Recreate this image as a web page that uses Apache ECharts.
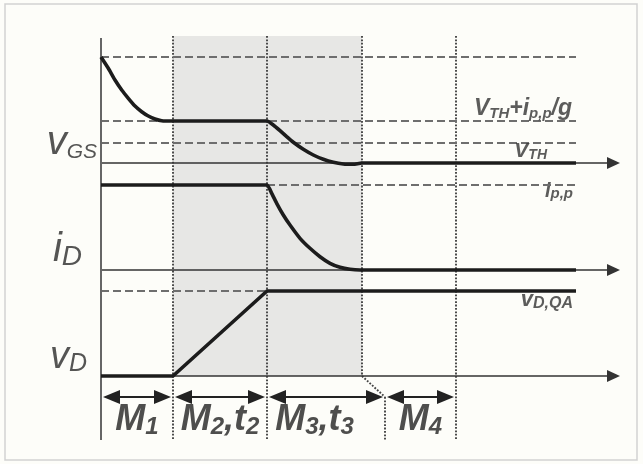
<!DOCTYPE html>
<html><head><meta charset="utf-8">
<script src="https://cdn.jsdelivr.net/npm/echarts@6/dist/echarts.min.js"></script>
<style>html,body{margin:0;padding:0;background:#fdfdf9}#c{width:643px;height:464px}</style>
</head><body><div id="c"></div>
<script>
// ---- data (x: time units, y: signal units) ----
const phaseBounds = [0, 7.2, 16.6, 26.1, 28.4, 35.5];   // t0, t1, t2, t3, t3', t4
const traceEnd = 47.5;
const axisEnd = 51.9;
const vgsStart = 31.9, vgsPlateau = 25.5, vthLevel = 23.3, vgsBase = 21.3;
const ippLevel = 19.1, idBase = 10.6;
const vdQA = 8.5, vdBase = 0;
const arrowRow = -2.1;
const yMin = -6.4, yMax = 34;

const vgsCurve = [[0,31.9],[0.73,30.77],[1.4,29.6],[2.07,28.6],[2.73,27.77],[3.4,27.0],[4.07,26.43],
  [4.73,26.0],[5.4,25.7],[6.07,25.53],[7.1,25.5],[16.6,25.5],
  [17.23,25.1],[17.9,24.53],[18.57,23.93],[19.23,23.37],[20.23,22.67],[21.23,22.1],[22.23,21.67],
  [23.23,21.37],[24.23,21.2],[25.23,21.17],[26.07,21.3],[47.5,21.3]];
const idCurve = [[0,19.1],[16.6,19.1],[17.07,18.27],[17.57,17.27],[18.23,16.1],[18.9,15.1],[19.9,13.77],
  [20.9,12.77],[21.9,11.93],[22.9,11.27],[23.9,10.87],[24.9,10.67],[25.9,10.6],[47.5,10.6]];
const vdCurve = [[0,0],[7.2,0],[16.6,8.5],[47.5,8.5]];

const phaseNames = ['M1', 'M2,t2', 'M3,t3', 'M4'];
const phaseSpans = [[0,1],[1,2],[2,3],[4,5]];      // indices into phaseBounds (label placement)
const phaseArrowEnds = [[0,1],[1,2],[2,4],[4,5]];  // indices into phaseBounds (arrow ends)

// ---- styles ----
const PX = 10; // pixels per unit (grid 520px / 52 units)
const FONT = 'Liberation Sans, Arial, sans-serif';
const traceStyle = {color:'#1c1c1c', width:3.6};
const dashStyle = {color:'#6e6e6e', width:2.2, type:[8,4]};
const dotStyle = {color:'#444', width:1.9, type:[1.8,1.6]};
const ink = '#2a2a2a';

function ml(pairs, lineStyle, symbol, symbolSize) {
  return {silent:true, animation:false, symbol:symbol||'none', symbolSize:symbolSize||0,
    label:{show:false}, lineStyle:lineStyle,
    data:pairs.map(p=>[{coord:[p[0],p[1]]},{coord:[p[2],p[3]]}])};
}
const t = phaseBounds;

// dotted time markers
const dotted = [
  [t[1], yMax, t[1], yMin], [t[2], yMax, t[2], yMin], [t[3], yMax, t[3], vdBase],
  [t[3], vdBase, t[4], arrowRow], [t[4], arrowRow, t[4], yMin], [t[5], yMax, t[5], yMin]
];
// dashed reference levels
const dashed = [
  [0, vgsStart, traceEnd, vgsStart], [0, vgsPlateau, traceEnd, vgsPlateau],
  [0, vthLevel, traceEnd, vthLevel], [t[2], ippLevel, traceEnd, ippLevel], [0, vdQA, t[2], vdQA]
];
// signal baselines with arrows
const arrowLen = 13;
const baselines = [vgsBase, idBase, vdBase].map(y => [0, y, axisEnd - arrowLen/2/PX, y]);
// phase double arrows
const headLen = 17, gap = 0.2;
const phaseArrows = phaseArrowEnds.map(([a,b]) => [t[a]+gap+headLen/2/PX, arrowRow, t[b]-gap-headLen/2/PX, arrowRow]);

// ---- text annotations ----
function richSub(mainSize, subSize, L, l, bold, color) {
  const base = {fontFamily:FONT, fontStyle:'italic', fontWeight: bold?'bold':'normal', color:color||ink};
  return {
    m: Object.assign({}, base, {fontSize:mainSize, lineHeight:L}),
    s: Object.assign({}, base, {fontSize:subSize, lineHeight:l, verticalAlign:'bottom'})
  };
}
const textItems = [
  // signal names left of the axis
  {value:[0, vgsBase], label:{formatter:'{m|v}{s|GS}', position:'left', distance:4, offset:[0,-20], rich:richSub(40,21,40,18,false)}},
  {value:[0, idBase], label:{formatter:'{m|i}{s|D}', position:'left', distance:19, offset:[0,-20], rich:richSub(40,28,42,20,false)}},
  {value:[0, vdBase], label:{formatter:'{m|v}{s|D}', position:'left', distance:14, offset:[0,-18.5], rich:richSub(38,25,38,22,false)}},
  // level names
  {value:[traceEnd, vgsPlateau], label:{formatter:'{m|V}{s|TH}{m|+i}{s|p,p}{m|/g}', position:'left', distance:4, offset:[0,-12.5], rich:richSub(23,15,26,15,true,'#333')}},
  {value:[traceEnd, vthLevel], label:{formatter:'{m|V}{s|TH}', position:'left', distance:29, offset:[0,8.5], rich:richSub(21,14,22,14,true,'#333')}},
  {value:[traceEnd, ippLevel], label:{formatter:'{m|i}{s|p,p}', position:'left', distance:3, offset:[0,6], rich:richSub(20,15,20,14,true,'#333')}},
  {value:[traceEnd, vdQA], label:{formatter:'{m|v}{s|D,QA}', position:'left', distance:3, offset:[0,9], rich:richSub(22,16,24,14,true,'#333')}}
];
phaseSpans.forEach(([a,b], i) => {
  const parts = phaseNames[i].split(',').map(p => '{m|' + p[0] + '}{s|' + p.slice(1) + '}');
  textItems.push({value:[(t[a]+t[b])/2, arrowRow],
    label:{formatter: parts.join('{m|,}'), position:'inside', offset:[0,23], rich:richSub(36,24,38,26,true,'#222')}});
});

const chart = echarts.init(document.getElementById('c'), null, {renderer:'canvas'});
chart.setOption({
  backgroundColor:'#fdfdf9',
  animation:false,
  grid:{left:101, right:22, top:36, bottom:24},
  xAxis:{type:'value', min:0, max:52, show:false},
  yAxis:{type:'value', min:yMin, max:yMax, show:false},
  graphic:[{type:'rect', shape:{x:5, y:4, width:632, height:456}, style:{fill:'none', stroke:'#d2d2d2', lineWidth:1.5}, z:-1}],
  series:[
    {type:'line', data:[], z:1,
      markArea:{silent:true, itemStyle:{color:'#e7e7e5'}, data:[[{coord:[t[1], yMax]},{coord:[t[3], vdBase]}]]},
      markLine: ml(dotted, dotStyle)},
    {type:'line', data:[], z:2, markLine: ml(dashed, dashStyle)},
    {type:'line', data:[], z:3, markLine: ml(baselines, {color:'#333', width:1.6, type:'solid'}, ['none','triangle'], [12, arrowLen])},
    {type:'line', data:[], z:3, markLine: ml([[0, yMax-0.2, 0, yMin]], {color:'#666', width:2, type:'solid'})},
    {type:'line', data:[], z:4, markLine: ml(phaseArrows, {color:'#222', width:1.8, type:'solid'}, ['triangle','triangle'], [14, headLen])},
    {name:'vGS', type:'line', data:vgsCurve, smooth:0.15, showSymbol:false, lineStyle:traceStyle, z:5},
    {name:'iD', type:'line', data:idCurve, smooth:0.15, showSymbol:false, lineStyle:traceStyle, z:5},
    {name:'vD', type:'line', data:vdCurve, showSymbol:false, lineStyle:traceStyle, z:5},
    {type:'scatter', data:textItems, symbolSize:0, silent:true, z:6, label:{show:true}}
  ]
});
</script></body></html>
